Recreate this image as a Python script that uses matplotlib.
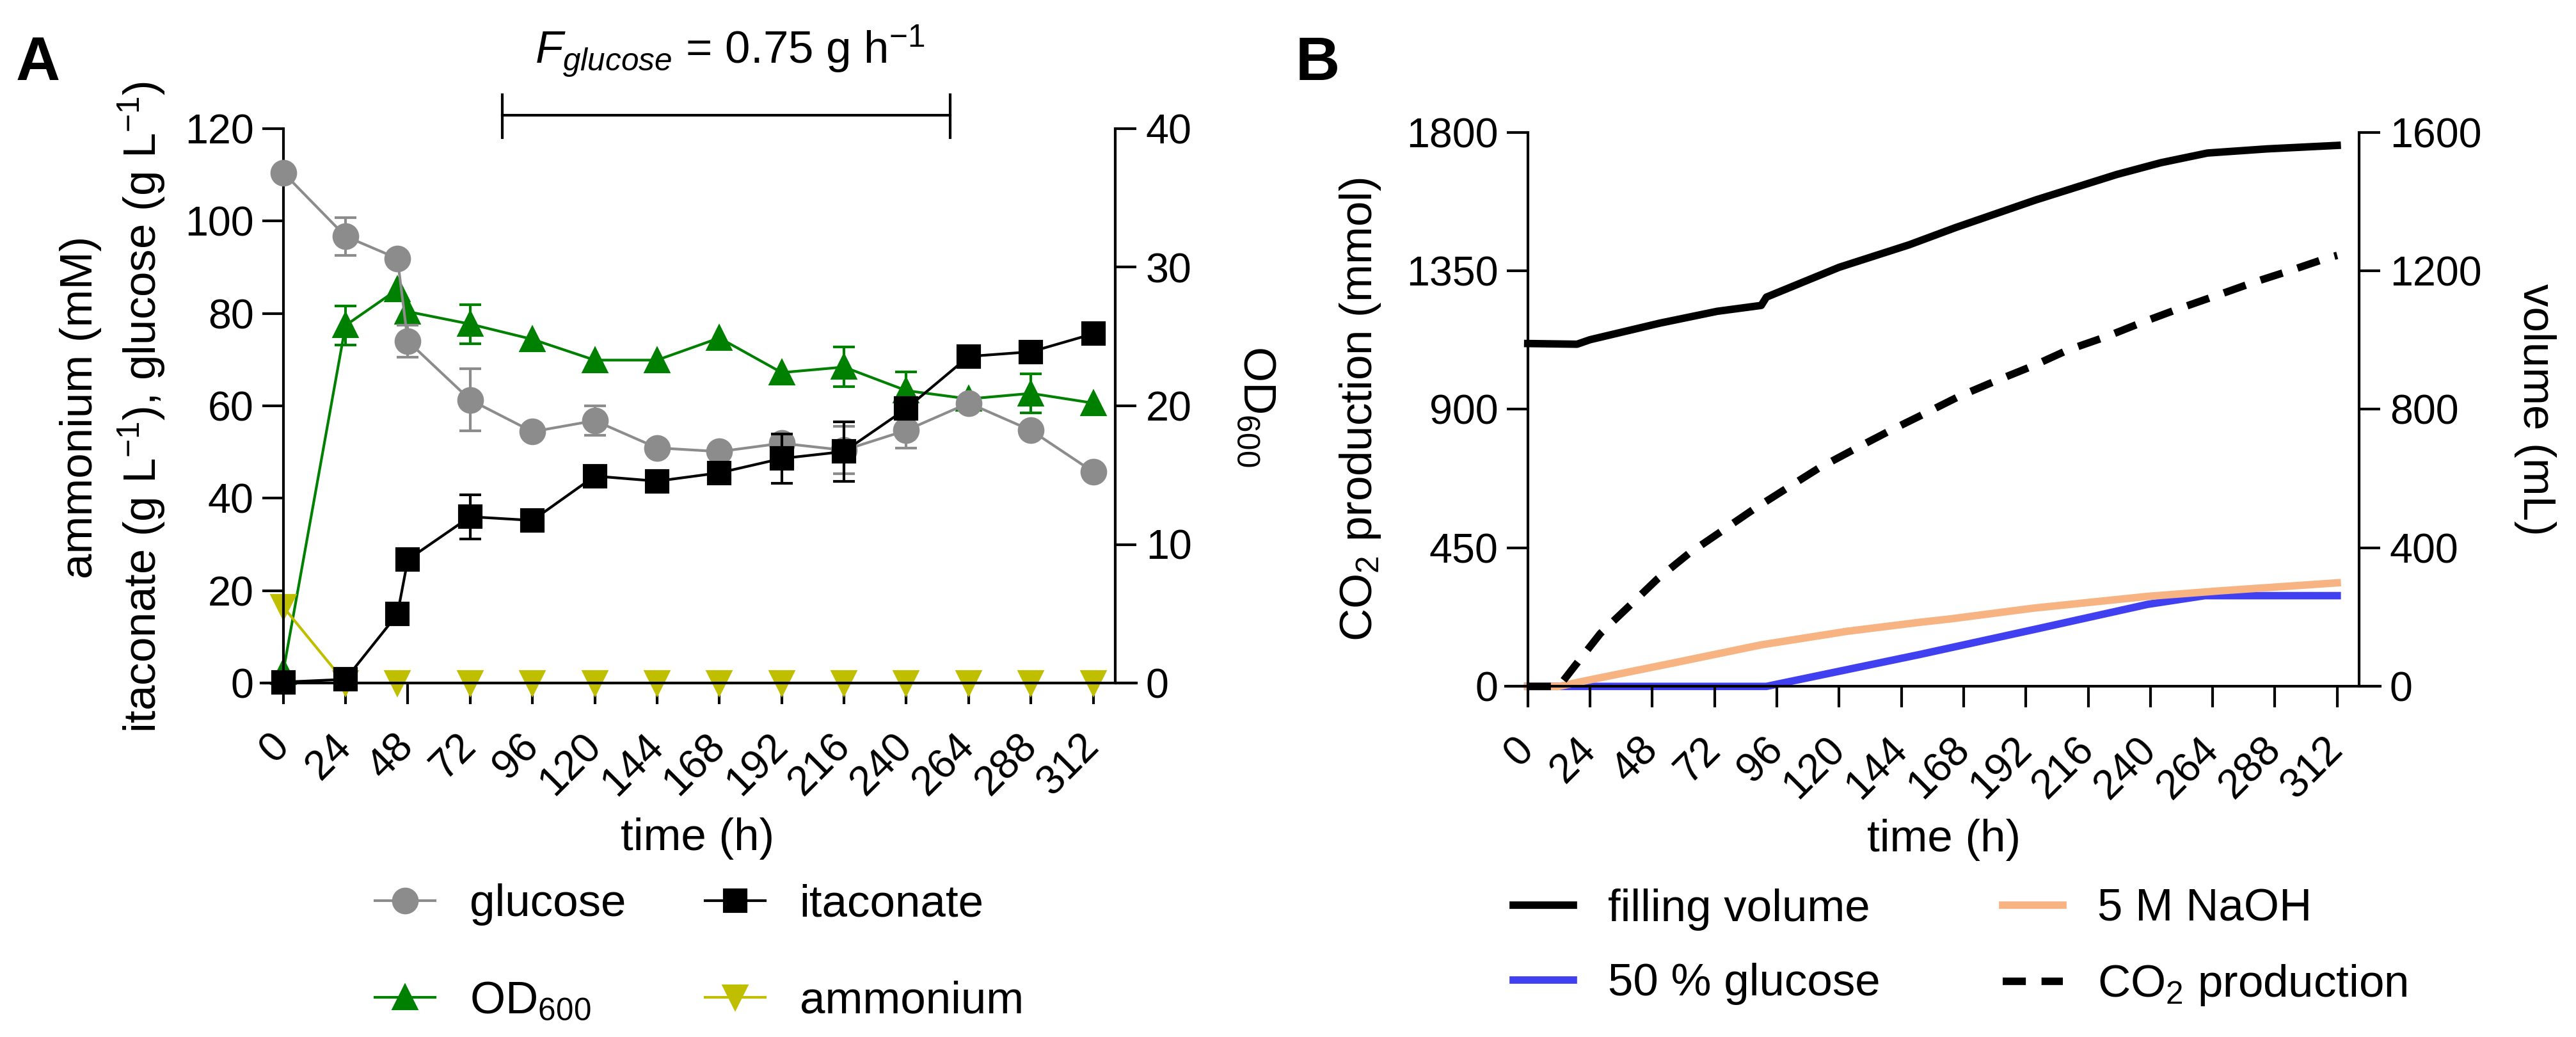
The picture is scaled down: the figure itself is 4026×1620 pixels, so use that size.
import matplotlib
matplotlib.use("Agg")
import matplotlib.pyplot as plt
import numpy as np

plt.rcParams['font.family'] = ['Liberation Sans', 'DejaVu Sans']
plt.rcParams['mathtext.fontset'] = 'custom'
plt.rcParams['mathtext.rm'] = 'Liberation Sans'
plt.rcParams['mathtext.it'] = 'Liberation Sans:italic'
plt.rcParams['mathtext.bf'] = 'Liberation Sans:bold'
plt.rcParams['axes.linewidth'] = 1.0

nan = np.nan

# ---- panel A: fed-batch time course ----
time_a = [0, 24, 44, 48, 72, 96, 120, 144, 168, 192, 216, 240, 264, 288, 312]
glucose = [110.5, 96.7, 91.9, 74.0, 61.3, 54.4, 56.8, 50.9, 50.1, 51.9, 50.4, 54.7, 60.6, 54.7, 45.7]
glucose_err = [nan, 4.1, nan, 3.4, 6.7, nan, 3.2, nan, nan, 1.5, 5.1, 3.8, nan, nan, nan]
itaconate = [0.2, 0.8, 14.9, 26.7, 36.0, 35.2, 44.8, 43.7, 45.5, 48.6, 50.1, 59.4, 70.7, 71.7, 75.6]
itaconate_err = [nan, nan, nan, nan, 4.8, nan, nan, nan, nan, 5.3, 6.5, nan, nan, nan, nan]
od600 = [0.8, 25.8, 28.4, 26.8, 25.9, 24.8, 23.3, 23.3, 24.9, 22.4, 22.8, 21.1, 20.5, 20.9, 20.2]
od600_err = [nan, 1.4, nan, nan, 1.4, nan, nan, nan, nan, nan, 1.43, 1.36, nan, 1.4, nan]
time_amm = [0, 24, 44, 72, 96, 120, 144, 168, 192, 216, 240, 264, 288, 312]
ammonium = [16.5, 0, 0, 0, 0, 0, 0, 0, 0, 0, 0, 0, 0, 0]
feed_start, feed_end = 84.4, 256.9

# ---- panel B: online data ----
time_fill = [0, 19, 24, 51, 73, 90, 92, 120, 147, 165, 196, 227, 244, 262, 285, 312]
filling_volume = [990, 988, 1001, 1049, 1083, 1100, 1124, 1210, 1275, 1325, 1405, 1478, 1512, 1540, 1552, 1562]
time_co2 = [0, 12, 18, 28, 39, 50, 62, 74, 87, 99, 112, 126, 139, 152, 166, 180, 195, 208,
            223, 237, 251, 266, 280, 294, 308, 312]
co2 = [0, 0, 65, 172, 260, 349, 431, 500, 575, 639, 708, 771, 828, 882, 941, 991, 1042, 1092,
       1136, 1183, 1227, 1271, 1313, 1351, 1391, 1400]
time_naoh = [0, 12, 24, 57, 90, 123, 151, 163, 195, 239, 267, 312]
naoh = [0, 0, 19, 69, 120, 159, 185, 195, 226, 260, 276, 299]
time_glcfeed = [0, 92, 151, 195, 239, 261, 312]
glc_feed = [0, 0, 92, 164, 237, 262, 262]

time_ticks = list(range(0, 313, 24))

W, H = 4026, 1620
fig = plt.figure(figsize=(W / 300, H / 300), dpi=300)

GRAY = '#8c8c8c'
GREEN = '#008000'
YELLOW = '#bfbf00'
BLUE = '#4040f0'
ORANGE = '#f8b382'
TICK_FS = 15.5
LAB_FS = 17


def style_axes(ax, ax2, yticks_l, yticks_r):
    ax.set_xlim(-8.5, 328.5)
    ax.spines['left'].set_position(('data', 0))
    ax.spines['right'].set_visible(False)
    ax.spines['top'].set_visible(False)
    for s in ['left', 'top', 'bottom']:
        ax2.spines[s].set_visible(False)
    ax2.spines['right'].set_position(('data', 320.4))
    ax.set_xticks(time_ticks)
    ax.set_xticklabels([str(t) for t in time_ticks], rotation=45, ha='right',
                       va='center', rotation_mode='anchor')
    ax.tick_params(axis='x', length=8, width=1, pad=13.5, labelsize=TICK_FS)
    ax.set_yticks(yticks_l)
    ax.set_ylim(yticks_l[0], yticks_l[-1])
    ax.tick_params(axis='y', length=8, width=1, pad=3, labelsize=TICK_FS)
    ax2.set_yticks(yticks_r)
    ax2.set_ylim(yticks_r[0], yticks_r[-1])
    ax2.tick_params(axis='y', length=8, width=1, pad=3.5, labelsize=TICK_FS)
    ax.set_zorder(ax2.get_zorder() + 1)
    ax.patch.set_visible(False)


# ================= panel A =================
axA = fig.add_axes([408.1 / W, 1 - 1067 / H, 1367.5 / W, 866 / H])
axA2 = axA.twinx()
style_axes(axA, axA2, [0, 20, 40, 60, 80, 100, 120], [0, 10, 20, 30, 40])

l_od, = axA2.plot(time_a, od600, '-^', color=GREEN, lw=1.0, ms=8.5, clip_on=False)
axA2.errorbar(time_a, od600, yerr=od600_err, fmt='none', ecolor=GREEN, elinewidth=1.0,
              capsize=4, capthick=1.0, clip_on=False)

l_amm, = axA.plot(time_amm, ammonium, '-v', color=YELLOW, lw=1.0, ms=8.5, clip_on=False, zorder=2)
l_glc, = axA.plot(time_a, glucose, '-o', color=GRAY, lw=1.0, ms=9, clip_on=False, zorder=3)
axA.errorbar(time_a, glucose, yerr=glucose_err, fmt='none', ecolor=GRAY, elinewidth=1.0,
             capsize=4, capthick=1.0, clip_on=False, zorder=3)
l_ita, = axA.plot(time_a, itaconate, '-s', color='black', lw=1.0, ms=8, clip_on=False, zorder=4)
axA.errorbar(time_a, itaconate, yerr=itaconate_err, fmt='none', ecolor='black', elinewidth=1.0,
             capsize=4, capthick=1.0, clip_on=False, zorder=4)

# feeding period bracket
axA.plot([feed_start, feed_end], [122.9, 122.9], color='black', lw=1.0, clip_on=False)
axA.plot([feed_start, feed_start], [118.1, 127.4], color='black', lw=1.0, clip_on=False)
axA.plot([feed_end, feed_end], [118.1, 127.4], color='black', lw=1.0, clip_on=False)
fig.text(1141 / W, 1 - 99 / H, r'$\mathit{F_{glucose}}$ = 0.75 g h$^{-1}$',
         ha='center', va='baseline', fontsize=LAB_FS)

fig.text(25 / W, 1 - 125 / H, 'A', fontsize=23, fontweight='bold', ha='left', va='baseline')
fig.text(126 / W, 1 - 636 / H, 'ammonium (mM)', rotation=90, ha='center', va='center',
         fontsize=LAB_FS)
fig.text(222 / W, 1 - 636 / H, r'itaconate (g L$^{-1}$), glucose (g L$^{-1}$)', rotation=90,
         ha='center', va='center', fontsize=LAB_FS)
fig.text(1962 / W, 1 - 635 / H, r'OD$_{600}$', rotation=270, ha='center', va='center',
         fontsize=LAB_FS)
fig.text(1090 / W, 1 - 1310 / H, 'time (h)', ha='center', va='center', fontsize=LAB_FS)

fig.legend([l_glc, l_od, l_ita, l_amm], ['glucose', r'OD$_{600}$', 'itaconate', 'ammonium'],
           loc='center left', bbox_to_anchor=(586 / W, 1 - 1489 / H), ncol=2, frameon=False,
           fontsize=LAB_FS, handlelength=1.33, handletextpad=0.76, columnspacing=1.74,
           labelspacing=1.2, borderpad=0, borderaxespad=0)

# ================= panel B =================
axB = fig.add_axes([2353.2 / W, 1 - 1072.3 / H, 1366.5 / W, 865.7 / H])
axB2 = axB.twinx()
style_axes(axB, axB2, [0, 450, 900, 1350, 1800], [0, 400, 800, 1200, 1600])

l_fill, = axB2.plot(time_fill, filling_volume, color='black', lw=2.8, clip_on=False)
l_glcf, = axB2.plot(time_glcfeed, glc_feed, color=BLUE, lw=2.8, clip_on=False)
l_naoh, = axB2.plot(time_naoh, naoh, color=ORANGE, lw=2.8, clip_on=False)
l_co2, = axB.plot(time_co2, co2, color='black', lw=2.8, dashes=(3.1, 2.1), clip_on=False)

fig.text(2025 / W, 1 - 125 / H, 'B', fontsize=23, fontweight='bold', ha='left', va='baseline')
fig.text(2126 / W, 1 - 640 / H, r'CO$_2$ production (mmol)', rotation=90, ha='center',
         va='center', fontsize=LAB_FS)
fig.text(3962 / W, 1 - 640 / H, 'volume (mL)', rotation=270, ha='center', va='center',
         fontsize=LAB_FS)
fig.text(3038 / W, 1 - 1312 / H, 'time (h)', ha='center', va='center', fontsize=LAB_FS)

fig.legend([l_fill, l_glcf, l_naoh, l_co2],
           ['filling volume', '50 % glucose', '5 M NaOH', r'CO$_2$ production'],
           loc='center left', bbox_to_anchor=(2365 / W, 1 - 1481 / H), ncol=2, frameon=False,
           fontsize=LAB_FS, handlelength=1.33, handletextpad=0.76, columnspacing=2.7,
           labelspacing=0.72, borderpad=0, borderaxespad=0)

fig.savefig('out.png', dpi=300)
